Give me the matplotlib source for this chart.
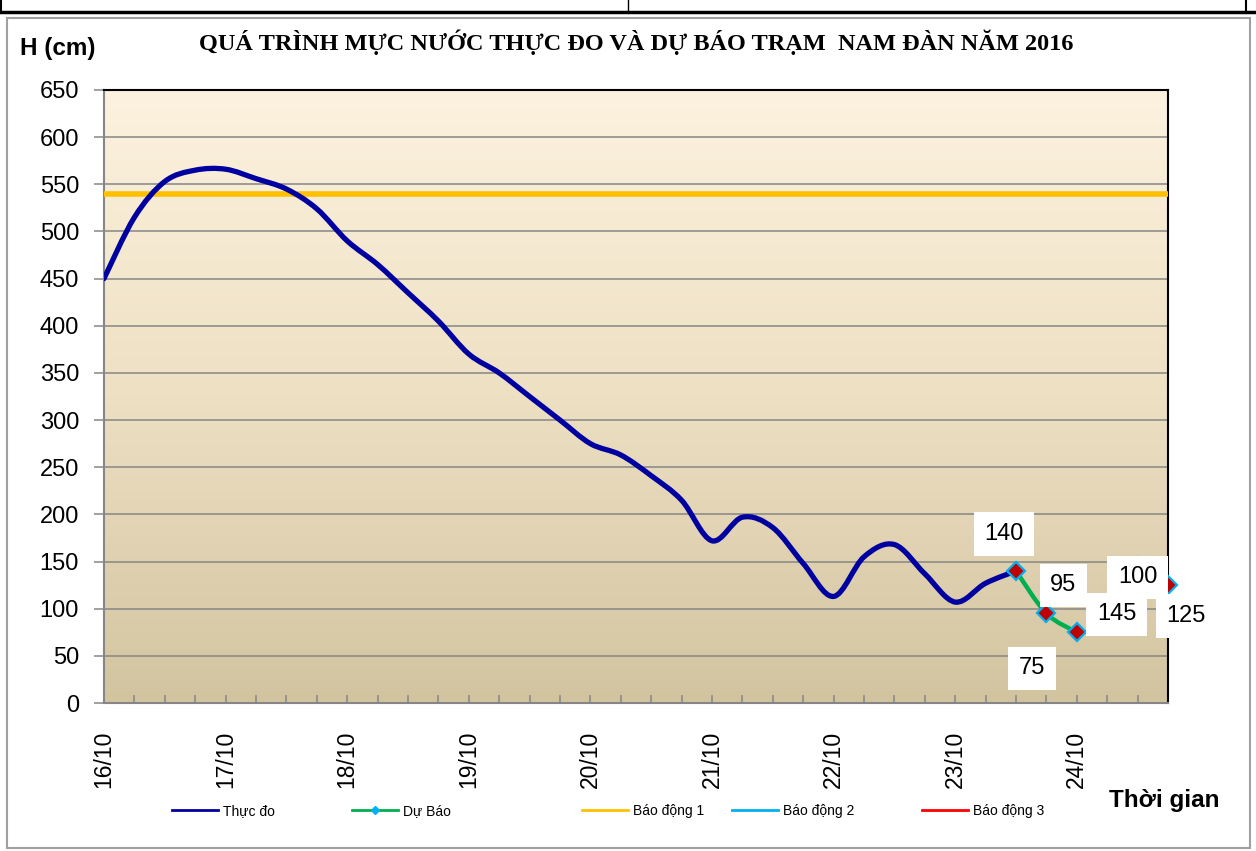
import numpy as np
import matplotlib
matplotlib.use('Agg')
import matplotlib.pyplot as plt
from matplotlib.path import Path
from matplotlib.patches import PathPatch
from matplotlib.lines import Line2D
from matplotlib.colors import LinearSegmentedColormap

# --- data (6-hourly, index 0 = 16/10 00h) ---
day_labels = ['16/10', '17/10', '18/10', '19/10', '20/10', '21/10', '22/10', '23/10', '24/10']
thuc_do = [450, 515, 553, 565, 566, 556, 545, 524, 490, 465, 435, 405,
           370, 350, 325, 300, 275, 263, 241, 215, 172, 197, 186, 148,
           113, 155, 168, 137, 107, 127, 140]
du_bao = [140, 95, 75, np.nan, 145, 125]
du_bao_start = 30
bao_dong = [540, 690, 790]   # BĐ1, BĐ2, BĐ3 (cm)
n_cat = 36

def smooth_path(xs, ys):
    # Excel-like smoothed line: Catmull-Rom converted to cubic beziers
    pts = np.column_stack([xs, ys])
    verts = [pts[0]]
    codes = [Path.MOVETO]
    for i in range(len(pts) - 1):
        p0 = pts[i - 1] if i > 0 else pts[i]
        p1, p2 = pts[i], pts[i + 1]
        p3 = pts[i + 2] if i + 2 < len(pts) else pts[i + 1]
        verts += [p1 + (p2 - p0) / 6, p2 - (p3 - p1) / 6, p2]
        codes += [Path.CURVE4] * 3
    return Path(verts, codes)

fig = plt.figure(figsize=(12.56, 8.51), dpi=100)
ax = fig.add_axes([104/1256, 1-703/851, (1168-104)/1256, (703-90)/851])

# gradient background
grad = np.linspace(0, 1, 256).reshape(-1, 1)
bg = LinearSegmentedColormap.from_list('bg', ['#d3c4a0', '#ede0c3', '#fdf2df'])
ax.imshow(grad, extent=[0, 1, 0, 1], transform=ax.transAxes, cmap=bg,
          aspect='auto', origin='lower', zorder=0)

ax.set_xlim(0, n_cat - 1)
ax.set_ylim(0, 650)
ax.set_yticks(range(0, 651, 50))
ax.yaxis.grid(True, color='#868686', lw=1.1, zorder=1)
ax.set_axisbelow(True)

ax.set_xticks(range(0, n_cat, 4))
ax.set_xticklabels(day_labels, rotation=90, fontsize=16.5, family='Liberation Sans')
ax.set_xticks(range(0, n_cat), minor=True)
ax.tick_params(axis='x', which='both', direction='in', length=6, color='#868686', width=1.1, pad=20)
ax.tick_params(axis='y', direction='out', length=7, color='#868686', width=1.1, pad=11)
for t in ax.get_yticklabels():
    t.set_fontsize(17)
    t.set_family('Liberation Sans')

for s in ['left', 'bottom']:
    ax.spines[s].set_color('#868686')
    ax.spines[s].set_linewidth(1.5)
for s in ['top', 'right']:
    ax.spines[s].set_color('black')
    ax.spines[s].set_linewidth(1.5)

# alarm levels
ax.axhline(bao_dong[0], color='#ffc000', lw=4, zorder=3)
ax.axhline(bao_dong[1], color='#00b0f0', lw=3, zorder=3)
ax.axhline(bao_dong[2], color='#ff0000', lw=3, zorder=3)

# observed
x_obs = np.arange(len(thuc_do))
ax.add_patch(PathPatch(smooth_path(x_obs, np.array(thuc_do, float)), fill=False,
                       edgecolor='#0000a0', lw=3.8, zorder=4, capstyle='round'))

# forecast
x_fc = np.arange(du_bao_start, du_bao_start + len(du_bao))
fc = np.array(du_bao, float)
ok = ~np.isnan(fc)
seg = []
for xi, yi, k in zip(x_fc, fc, ok):
    if k:
        seg.append((xi, yi))
    else:
        if len(seg) > 1:
            s = np.array(seg)
            ax.add_patch(PathPatch(smooth_path(s[:, 0], s[:, 1]), fill=False,
                                   edgecolor='#00b050', lw=3.2, zorder=5))
        seg = []
ax.plot(x_fc[ok], fc[ok], ls='none', marker='D', ms=9, mfc='#c00000',
        mec='#00b0f0', mew=1.6, zorder=6, clip_on=False)

# data labels (white boxes)
lbl_kw = dict(textcoords='offset pixels', ha='center', va='center', fontsize=17,
              family='Liberation Sans', zorder=8, annotation_clip=False,
              bbox=dict(boxstyle='square,pad=0.45', fc='white', ec='none'))
ax.annotate('140', (30, 140), xytext=(-12, 37), **lbl_kw)
ax.annotate('95', (31, 95), xytext=(17, 28), **lbl_kw)
ax.annotate('75', (32, 75), xytext=(-45, -36), **lbl_kw)
ax.annotate('145', (34, 145), xytext=(-21, -48), **lbl_kw)
ax.annotate('100', (34, 145), xytext=(0, -11), **lbl_kw)
ax.annotate('125', (35, 125), xytext=(18, -31), **lbl_kw)

# titles
fig.text(58/1256, 1-48/851, 'H (cm)', ha='center', va='center', fontsize=17.5,
         fontweight='bold', family='Liberation Sans')
fig.text(636/1256, 1-42/851, 'QUÁ TRÌNH MỰC NƯỚC THỰC ĐO VÀ DỰ BÁO TRẠM  NAM ĐÀN NĂM 2016',
         ha='center', va='center', fontsize=17.5, fontweight='bold', family='Liberation Serif')
fig.text(1164/1256, 1-800/851, 'Thời gian', ha='center', va='center', fontsize=17.5,
         fontweight='bold', family='Liberation Sans')

# legend entries
handles = [Line2D([], [], color='#0000a0', lw=2),
           Line2D([], [], color='#00b050', lw=2, marker='D', ms=4, mfc='#00b0f0', mec='#00b0f0'),
           Line2D([], [], color='#ffc000', lw=2),
           Line2D([], [], color='#00b0f0', lw=2),
           Line2D([], [], color='#ff0000', lw=2)]
names = ['Thực đo', 'Dự Báo', 'Báo động 1', 'Báo động 2', 'Báo động 3']
xs = [172, 352, 582, 732, 922]
for h, nm, x0 in zip(handles, names, xs):
    fig.legend([h], [nm], loc='center left', bbox_to_anchor=(x0/1256, 1-811/851),
               frameon=False, handlelength=3.3, handletextpad=0.4,
               borderpad=0, borderaxespad=0, prop={'family': 'Liberation Sans', 'size': 10})

# chart border + top table lines
fig.add_artist(plt.Rectangle((7/1256, 3/851), 1243/1256, 830/851, transform=fig.transFigure,
                             fill=False, ec='#a0a0a0', lw=1.5))
fig.add_artist(Line2D([0, 1], [1-12/851, 1-12/851], transform=fig.transFigure, color='black', lw=2.5))
fig.add_artist(Line2D([628/1256, 628/1256], [1-12/851, 1], transform=fig.transFigure, color='black', lw=1))
fig.add_artist(Line2D([1/1256, 1/1256], [1-12/851, 1], transform=fig.transFigure, color='black', lw=1.5))
fig.add_artist(Line2D([1246/1256, 1246/1256], [1-12/851, 1], transform=fig.transFigure, color='black', lw=1.5))

fig.savefig('out.png', dpi=100)
